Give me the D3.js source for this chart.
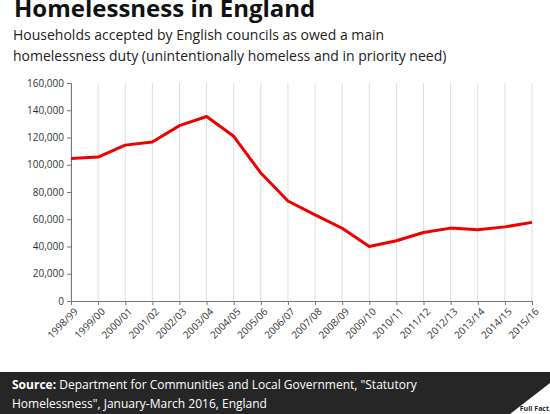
<!DOCTYPE html>
<html><head><meta charset="utf-8">
<script src="https://cdn.jsdelivr.net/npm/d3@7"></script>
<style>body{margin:0;background:#fff;font-family:"Open Sans",sans-serif;}</style>
</head><body>
<script>
var w = 550, h = 414;
var years = ["1998/99","1999/00","2000/01","2001/02","2002/03","2003/04","2004/05","2005/06","2006/07","2007/08","2008/09","2009/10","2010/11","2011/12","2012/13","2013/14","2014/15","2015/16"];
var households = [104600,105600,114400,116700,128700,135400,120900,93900,73400,63200,53400,40000,44200,50300,53500,52300,54400,57700];
var yTicks = [0,20000,40000,60000,80000,100000,120000,140000,160000];

var svg = d3.select("body").append("svg").attr("width", w).attr("height", h);

var x = d3.scalePoint().domain(years).range([71, 532]);
var y = d3.scaleLinear().domain([0, 160000]).range([301, 83]);

//Title and subtitle
svg.append("text").attr("x", 14).attr("y", 17).text("Homelessness in England")
   .style("font-size", "24px").style("font-weight", "bold").style("fill", "#111");
svg.append("text").attr("x", 13).attr("y", 40).text("Households accepted by English councils as owed a main")
   .style("font-size", "14px").style("fill", "#222");
svg.append("text").attr("x", 13).attr("y", 61).text("homelessness duty (unintentionally homeless and in priority need)")
   .style("font-size", "14px").style("fill", "#222");

//Vertical gridlines
svg.selectAll(".grid").data(years).enter().append("line")
   .attr("x1", function(d){ return x(d); }).attr("x2", function(d){ return x(d); })
   .attr("y1", y(160000)).attr("y2", y(0))
   .style("stroke", "#ddd").style("stroke-width", 1);

//Axes
var yAxis = svg.append("g").attr("transform", "translate(71,0)")
   .call(d3.axisLeft(y).tickValues(yTicks).tickFormat(d3.format(",")).tickSize(4));
var xAxis = svg.append("g").attr("transform", "translate(0,301)")
   .call(d3.axisBottom(x).tickSize(4));
[xAxis, yAxis].forEach(function(a){
  a.select(".domain").style("stroke", "#777");
  a.selectAll(".tick line").style("stroke", "#777");
  a.selectAll("text").style("font-size", "10px").style("fill", "#333").style("font-family", "Open Sans, sans-serif");
});
xAxis.selectAll("text").attr("text-anchor", "end").attr("dx", "-0.3em").attr("dy", "0.6em")
   .attr("transform", "rotate(-45)");

//Line
var line = d3.line().x(function(d, i){ return x(years[i]); }).y(function(d){ return y(d); });
svg.append("path").datum(households).attr("d", line)
   .style("fill", "none").style("stroke", "#ee0000").style("stroke-width", 3).style("stroke-linejoin", "round");

//Footer
svg.append("rect").attr("x", 0).attr("y", 372).attr("width", w).attr("height", 42).style("fill", "#262626");
var src = svg.append("text").attr("x", 12).attr("y", 389).style("font-size", "12px").style("fill", "#fff");
src.append("tspan").text("Source: ").style("font-weight", "bold");
src.append("tspan").text("Department for Communities and Local Government, \"Statutory");
svg.append("text").attr("x", 12).attr("y", 408).text("Homelessness\", January-March 2016, England")
   .style("font-size", "12px").style("fill", "#fff");
svg.append("path").attr("d", "M550,383 L550,414 L510,414 Z").style("fill", "#fff");
svg.append("text").attr("x", 549).attr("y", 411).attr("text-anchor", "end").text("Full Fact")
   .style("font-size", "7px").style("font-weight", "bold").style("fill", "#262626");
</script>
</body></html>
